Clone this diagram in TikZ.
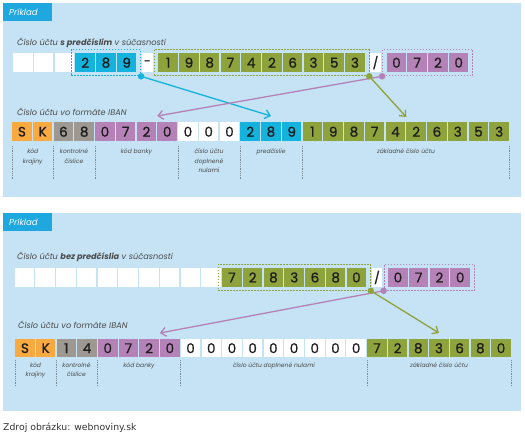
\documentclass[tikz,border=0pt]{standalone}
\usepackage{fontspec}
\setmainfont{Poppins}
\newfontfamily\digfont{Poppins}[FakeBold=1.2]
\newfontfamily\footfont{DejaVu Sans}
\usetikzlibrary{arrows.meta,fit}
\definecolor{panelbg}{HTML}{C5E3F4}
\definecolor{tabblue}{HTML}{1EA8DF}
\definecolor{cyanc}{HTML}{14B3DE}
\definecolor{greenc}{HTML}{8FA33D}
\definecolor{purplec}{HTML}{B582B8}
\definecolor{orangec}{HTML}{F8AA40}
\definecolor{grayc}{HTML}{9E9893}
\definecolor{txt}{HTML}{1E1E1E}
\definecolor{labtxt}{HTML}{4A4A4A}
\definecolor{septxt}{HTML}{7A8A96}
\tikzset{
  cell/.style={minimum width=19.5pt, minimum height=19pt, inner sep=0pt, anchor=north west,
    font=\digfont\fontsize{13.5}{13.5}\selectfont, text=txt},
  narrow/.style={minimum width=10.5pt, minimum height=19pt, inner sep=0pt, anchor=north,
    fill=white, font=\digfont\fontsize{12}{12}\selectfont, text=txt},
  grpbox/.style={draw=#1, dash pattern=on 1.6pt off 1.4pt, line width=0.8pt, inner xsep=4pt, inner ysep=3.5pt},
  link/.style={draw=#1, line width=1.3pt, -{Straight Barb[length=5pt,width=9pt,line width=1.3pt]}},
  dot/.style={circle, fill=#1, inner sep=0pt, minimum size=6.5pt},
  rowlabel/.style={anchor=west, inner sep=0pt, text=labtxt, font=\itshape\fontsize{8.2}{9}\selectfont},
  partlabel/.style={anchor=north, inner sep=0pt, align=center, text=labtxt, font=\itshape\fontsize{6}{9.2}\selectfont},
  sepline/.style={draw=septxt, line width=0.5pt, dash pattern=on 1pt off 0.8pt},
  panel/.style={fill=panelbg, draw=none},
  tab/.style={fill=tabblue, draw=none},
  tabtext/.style={anchor=west, inner sep=0pt, text=white, font=\itshape\fontsize{8.6}{9}\selectfont}
}
\begin{document}
\begin{tikzpicture}[x=1pt,y=-1pt]
\useasboundingbox[fill=white] (0,0) rectangle (525,435);

% ================= PANEL 1 =================
\fill[panel] (3,3) rectangle (521,197);
\fill[tab] (3,3) rectangle (52,21);
\node[tabtext] (tab1) at (9,12) {Príklad};
\node[rowlabel] (lab1a) at (17,43) {Číslo účtu \textbf{s predčíslim} v súčasnosti};

% current row 1
\foreach \i/\c/\t in {0/white/,1/white/,2/white/,3/cyanc/2,4/cyanc/8,5/cyanc/9,
  7/greenc/1,8/greenc/9,9/greenc/8,10/greenc/7,11/greenc/4,12/greenc/2,13/greenc/6,14/greenc/3,15/greenc/5,16/greenc/3,
  18/purplec/0,19/purplec/7,20/purplec/2,21/purplec/0}
  \node[cell, fill=\c] (a\i) at ({13+\i*20.75},53) {\t};
\node[narrow] (a6) at (147.25,53) {-};
\node[narrow] (a17) at (375.5,53) {/};
\node[grpbox=cyanc, fit=(a3)(a5)] (box1b) {};
\node[grpbox=greenc, fit=(a7)(a16)] (box1g) {};
\node[grpbox=purplec, fit=(a18)(a21)] (box1p) {};

% IBAN row 1
\node[rowlabel] (lab1b) at (17,112) {Číslo účtu vo formáte IBAN};
\foreach \i/\c/\t in {0/orangec/S,1/orangec/K,2/grayc/6,3/grayc/8,4/purplec/0,5/purplec/7,6/purplec/2,7/purplec/0,
  8/white/0,9/white/0,10/white/0,11/cyanc/2,12/cyanc/8,13/cyanc/9,
  14/greenc/1,15/greenc/9,16/greenc/8,17/greenc/7,18/greenc/4,19/greenc/2,20/greenc/6,21/greenc/3,22/greenc/5,23/greenc/3}
  \node[cell, fill=\c] (b\i) at ({12+\i*20.75},122) {\t};

% separators 1
\foreach \x in {12.5,53.5,95,178,240.5,302.5,509}
  \draw[sepline] (\x,146) -- (\x,179);
\node[partlabel] (p1a) at (32.75,149) {kód\\krajiny};
\node[partlabel] (p1b) at (74,149) {kontrolné\\číslice};
\node[partlabel] (p1c) at (136.5,149) {kód banky};
\node[partlabel] (p1d) at (209,149) {číslo účtu\\doplnené\\nulami};
\node[partlabel] (p1e) at (271,149) {predčíslie};
\node[partlabel] (p1f) at (406,149) {základné číslo účtu};

% links 1
\draw[link=cyanc] (box1b.south east) -- ([yshift=6pt]b12.north);
\draw[link=purplec] (box1p.south west) -- ([yshift=6pt]b7.north west);
\draw[link=greenc] (box1g.south east) -- ([yshift=5pt]b19.north west);
\node[dot=cyanc] (d1b) at (box1b.south east) {};
\node[dot=greenc] (d1g) at (box1g.south east) {};
\node[dot=purplec] (d1p) at (box1p.south west) {};

% ================= PANEL 2 =================
\fill[panel] (3,213) rectangle (521,411);
\fill[tab] (3,213) rectangle (52,231);
\node[tabtext] (tab2) at (9,222) {Príklad};
\node[rowlabel] (lab2a) at (17,257) {Číslo účtu \textbf{bez predčíslia} v súčasnosti};

\foreach \i/\c/\t in {0/white/,1/white/,2/white/,3/white/,4/white/,5/white/,6/white/,7/white/,8/white/,9/white/,
  10/greenc/7,11/greenc/2,12/greenc/8,13/greenc/3,14/greenc/6,15/greenc/8,16/greenc/0,
  18/purplec/0,19/purplec/7,20/purplec/2,21/purplec/0}
  \node[cell, fill=\c, minimum height=18.5pt] (c\i) at ({14.5+\i*20.75},268) {\t};
\node[narrow, minimum height=18.5pt] (c17) at (377,268) {/};
\node[grpbox=greenc, fit=(c10)(c16)] (box2g) {};
\node[grpbox=purplec, fit=(c18)(c21)] (box2p) {};

% IBAN row 2
\node[rowlabel] (lab2b) at (18,325) {Číslo účtu vo formáte IBAN};
\foreach \i/\c/\t in {0/orangec/S,1/orangec/K,2/grayc/1,3/grayc/4,4/purplec/0,5/purplec/7,6/purplec/2,7/purplec/0,
  8/white/0,9/white/0,10/white/0,11/white/0,12/white/0,13/white/0,14/white/0,15/white/0,16/white/0,
  17/greenc/7,18/greenc/2,19/greenc/8,20/greenc/3,21/greenc/6,22/greenc/8,23/greenc/0}
  \node[cell, fill=\c, minimum height=18pt] (e\i) at ({15+\i*20.7},339) {\t};

% separators 2
\foreach \x in {15.5,56,97.5,180.5,367,511}
  \draw[sepline] (\x,360) -- (\x,387);
\node[partlabel] (p2a) at (35.5,362.5) {kód\\krajiny};
\node[partlabel] (p2b) at (76.5,362.5) {kontrolné\\číslice};
\node[partlabel] (p2c) at (139,362.5) {kód banky};
\node[partlabel] (p2d) at (274,362.5) {číslo účtu doplnené nulami};
\node[partlabel] (p2e) at (439,362.5) {základné číslo účtu};

% links 2
\draw[link=purplec] (box2p.south west) -- ([yshift=6pt]e7.north west);
\draw[link=greenc] (box2g.south east) -- ([yshift=6pt]e20.north);
\node[dot=greenc] (d2g) at (box2g.south east) {};
\node[dot=purplec] (d2p) at (box2p.south west) {};

% footer
\node[anchor=west, inner sep=0pt, text=black!80, font=\footfont\fontsize{9.3}{11}\selectfont] (src) at (3,428) {Zdroj obrázku: webnoviny.sk};
\end{tikzpicture}
\end{document}
